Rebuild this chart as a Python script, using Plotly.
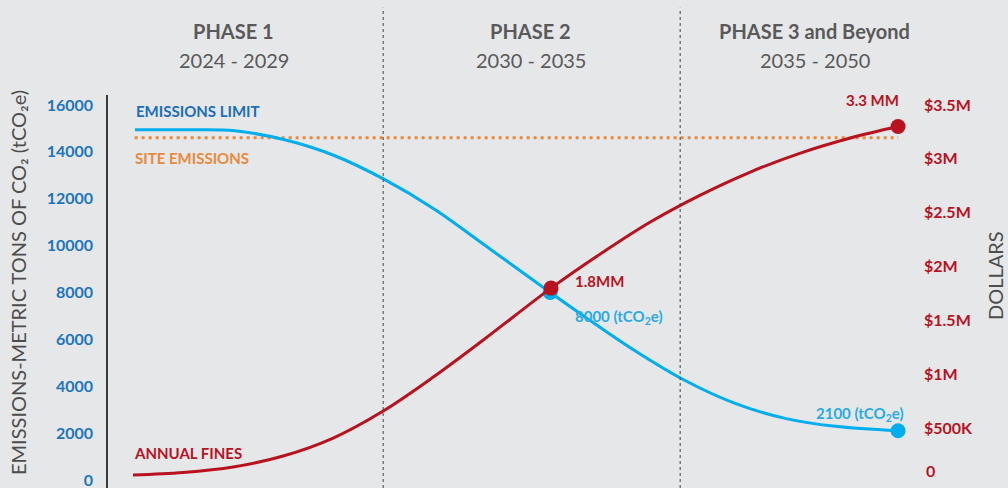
import plotly.graph_objects as go

# Timeline position along the horizontal axis (0 = start of Phase 1, 100 = end of chart)
limit_x = [3.35, 9.5, 15.7, 21.9, 28.1, 34.3, 40.5, 46.7, 54.8, 59.1, 65.3, 71.5, 77.7, 83.9, 90.1, 97.9]
emissions_limit = [14940, 14940, 14900, 14515, 13835, 12815, 11545, 10015, 8000, 6960, 5515, 4245, 3270, 2630, 2290, 2100]

fines_x = [3.1, 9.3, 15.5, 21.7, 27.9, 34.1, 40.3, 46.5, 54.9, 61.0, 67.2, 73.4, 79.6, 85.8, 92.0, 97.9]
annual_fines = [65e3, 88e3, 139e3, 241e3, 408e3, 659e3, 974e3, 1318e3, 1800e3, 2117e3, 2414e3, 2664e3, 2878e3, 3054e3, 3194e3, 3300e3]

site_x = [3.3, 97.9]
site_emissions = [14600, 14600]

limit_marker_x = [54.8, 97.9]
limit_marker_y = [8000, 2100]
fines_marker_x = [54.9, 97.9]
fines_marker_y = [1.8e6, 3.3e6]

phase_bounds = [34.1, 70.9]
phase_names = ["PHASE 1", "PHASE 2", "PHASE 3 and Beyond"]
phase_years = ["2024 - 2029", "2030 - 2035", "2035 - 2050"]
phase_centers = [15.6, 52.4, 87.6]

left_ticks = [0, 2000, 4000, 6000, 8000, 10000, 12000, 14000, 16000]
left_labels = [str(v) for v in left_ticks]
# the dollar axis baseline label "0" sits just above the page edge, drawn separately
right_ticks = [0.5e6, 1e6, 1.5e6, 2e6, 2.5e6, 3e6, 3.5e6]
right_labels = ["$500K", "$1M", "$1.5M", "$2M", "$2.5M", "$3M", "$3.5M"]

BG = "#E6E7E9"
GRAY = "#595959"
TICK_BLUE = "#1C75BC"
LABEL_BLUE = "#1A6DB6"
LINE_BLUE = "#00AEEF"
NOTE_BLUE = "#29ABE2"
RED = "#B8121F"
ORANGE = "#E9893B"
FONT = "Lato"

fig = go.Figure()

fig.add_trace(go.Scatter(
    x=site_x, y=site_emissions, mode="lines",
    line=dict(color=ORANGE, width=3, dash="3px,4px"),
    hoverinfo="skip", showlegend=False))

fig.add_trace(go.Scatter(
    x=limit_x, y=emissions_limit, mode="lines",
    line=dict(color=LINE_BLUE, width=3, shape="spline", smoothing=1),
    hoverinfo="skip", showlegend=False))

fig.add_trace(go.Scatter(
    x=limit_marker_x, y=limit_marker_y, mode="markers",
    marker=dict(color=LINE_BLUE, size=15),
    hoverinfo="skip", showlegend=False))

fig.add_trace(go.Scatter(
    x=fines_x, y=annual_fines, mode="lines", yaxis="y2",
    line=dict(color=RED, width=3, shape="spline", smoothing=1),
    hoverinfo="skip", showlegend=False))

fig.add_trace(go.Scatter(
    x=fines_marker_x, y=fines_marker_y, mode="markers", yaxis="y2",
    marker=dict(color=RED, size=15),
    hoverinfo="skip", showlegend=False))

# Phase divider lines reaching up into the header band
shapes = []
for b in phase_bounds:
    shapes.append(dict(type="line", xref="paper", yref="paper",
                       x0=b / 100, x1=b / 100, y0=0, y1=1.222,
                       line=dict(color="#444444", width=1, dash="dot")))

def py(pixel_y):
    # convert a vertical pixel offset from the top of the page to paper units
    return (488 - pixel_y) / 393

annotations = []
for name, years, cx in zip(phase_names, phase_years, phase_centers):
    annotations.append(dict(x=cx / 100, y=py(31), xref="paper", yref="paper",
                            text=f"<b>{name}</b>", showarrow=False,
                            font=dict(family=FONT, size=20, color=GRAY),
                            xanchor="center", yanchor="middle"))
    annotations.append(dict(x=cx / 100, y=py(60), xref="paper", yref="paper",
                            text=years, showarrow=False,
                            font=dict(family=FONT, size=20, color=GRAY),
                            xanchor="center", yanchor="middle"))

def label(text, x, y, color, anchor="left", size=15):
    annotations.append(dict(x=x, y=y, xref="x", yref="paper", text=f"<b>{text}</b>",
                            showarrow=False, font=dict(family=FONT, size=size, color=color),
                            xanchor=anchor, yanchor="middle", borderpad=0))

label("EMISSIONS LIMIT", 3.4, py(111), LABEL_BLUE)
label("SITE EMISSIONS", 3.2, py(158), ORANGE)
label("ANNUAL FINES", 3.1, py(453), RED)
label("3.3 MM", 98.2, py(100), RED, anchor="right")
label("1.8MM", 57.8, py(281), RED)
label("8000 (tCO<sub>2</sub>e)", 57.8, py(317), NOTE_BLUE)
label("2100 (tCO<sub>2</sub>e)", 98.8, py(414), NOTE_BLUE, anchor="right")

# Baseline "0" of the dollar axis
annotations.append(dict(x=(925 - 108) / 807, y=py(470), xref="paper", yref="paper",
                        text="<b>0</b>", showarrow=False,
                        font=dict(family=FONT, size=16, color=RED),
                        xanchor="left", yanchor="middle", borderpad=0))

# Axis titles
annotations.append(dict(x=(18 - 108) / 807, y=py(283), xref="paper", yref="paper",
                        text="EMISSIONS-METRIC TONS OF CO₂ (tCO₂e)", textangle=-90,
                        showarrow=False, font=dict(family=FONT, size=20, color="#4D4D4D"),
                        xanchor="center", yanchor="middle"))
annotations.append(dict(x=(995 - 108) / 807, y=py(276), xref="paper", yref="paper",
                        text="DOLLARS", textangle=-90,
                        showarrow=False, font=dict(family=FONT, size=20, color="#4D4D4D"),
                        xanchor="center", yanchor="middle"))

fig.update_layout(
    width=1008, height=488,
    margin=dict(l=108, r=93, t=95, b=0, autoexpand=False),
    paper_bgcolor=BG, plot_bgcolor=BG,
    showlegend=False,
    shapes=shapes,
    annotations=annotations,
    xaxis=dict(range=[0, 100], visible=False, fixedrange=True),
    yaxis=dict(range=[-341, 16427], tickvals=left_ticks, ticktext=left_labels,
               showgrid=False, zeroline=False, showline=True,
               linecolor="#3A3A3A", linewidth=1.5, ticks="",
               ticklabelstandoff=10, automargin=False, ticklabeloverflow="allow",
               tickfont=dict(family=FONT, size=16, color=TICK_BLUE, weight="bold")),
    yaxis2=dict(range=[-56000, 3593000], tickvals=right_ticks, ticktext=right_labels,
                overlaying="y", side="right", showgrid=False, zeroline=False,
                showline=False, ticks="", ticklabelstandoff=8, automargin=False,
                ticklabeloverflow="allow",
                tickfont=dict(family=FONT, size=16, color=RED, weight="bold")),
)

fig.write_html("out.html")
